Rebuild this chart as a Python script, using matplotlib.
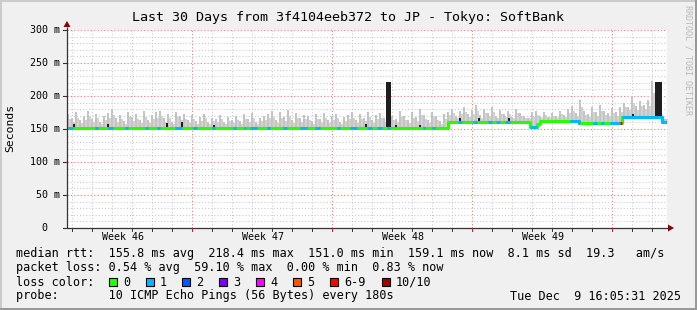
import numpy as np
import matplotlib
matplotlib.use('Agg')
import matplotlib.pyplot as plt
from matplotlib.patches import Rectangle, Polygon

W, H = 697, 310
MONO = 'DejaVu Sans Mono'

# x is in days from the left edge of the 30 day window
median_start = [0.0, 19.05, 23.15, 23.5, 23.65, 25.6, 27.75, 29.75]
median_ms = [151.5, 161.0, 153.0, 157.0, 162.0, 159.0, 168.0, 160.0]

# loss level per interval (1 = cyan, 6 = red); rest of the line is 0 (green)
loss_start = [0.05, 1.4, 2.05, 2.9, 3.9, 4.5, 5.4, 6.3, 7.25, 8.3, 8.85, 9.15,
              10.0, 10.8, 11.65, 12.4, 13.5, 14.15, 15.0, 15.5, 16.0, 17.8,
              18.25, 19.55, 20.3, 21.05, 21.45, 21.9, 23.15, 25.15, 26.3,
              26.7, 27.15, 27.65, 27.75]
loss_end = [0.3, 1.55, 2.3, 3.05, 4.05, 4.65, 5.75, 6.5, 7.4, 8.45, 8.95, 9.5,
            10.15, 11.0, 12.0, 12.65, 13.65, 14.5, 15.25, 15.75, 16.15, 17.9,
            18.4, 19.75, 20.5, 21.25, 21.65, 22.15, 23.5, 25.65, 26.5,
            26.85, 27.65, 27.75, 30.0]
loss_level = [1, 1, 1, 1, 1, 1, 1, 1, 1, 1, 1, 1,
              1, 1, 1, 1, 1, 1, 1, 1, 1, 1,
              1, 1, 1, 1, 1, 1, 1, 1, 1,
              1, 1, 6, 1]

# smoke top (max ping) per 0.2 day bin, ms
smoke_top = [
    172, 166, 175, 163, 170, 178, 165, 173, 161, 169,
    174, 180, 166, 171, 162, 176, 168, 172, 164, 177,
    163, 171, 175, 178, 166, 173, 160, 176, 169, 172,
    164, 171, 162, 168, 173, 161, 167, 165, 171, 160,
    168, 163, 170, 162, 172, 165, 174, 161, 167, 170,
    173, 177, 164, 175, 168, 179, 163, 174, 166, 171,
    169, 162, 172, 165, 174, 163, 170, 173, 160, 168,
    171, 175, 164, 172, 167, 176, 163, 171, 174, 166,
    182, 170, 165, 177, 169, 163, 175, 168, 180, 171,
    164, 176, 169, 162, 172,
    176, 181, 170, 178, 184, 172, 179, 186, 171, 180,
    174, 183, 169, 179, 173, 178, 168, 181, 175, 170,
    167, 175, 178, 169, 176, 168, 174, 170, 178, 171,
    180, 185, 174, 194, 178, 172, 183, 176, 187, 177,
    175, 182, 176, 184,
    190, 184, 200, 185, 192, 186, 194, 222, 215, 166,
]
BIN = 0.2

# dense (black) smoke: blips and the two latency spikes
dark_start = [0.3, 2.0, 4.95, 5.7, 7.3, 14.9, 15.95, 16.4, 17.6, 19.6, 20.55, 22.05, 28.25, 29.4]
dark_end = [0.38, 2.08, 5.05, 5.78, 7.38, 14.98, 16.2, 16.48, 17.68, 19.68, 20.63, 22.13, 28.33, 29.75]
dark_top = [157, 157, 159, 161, 156, 157, 221, 156, 156, 166, 166, 166, 172, 221]

loss_colors = ['#26ff00', '#00b8ff', '#0059ff', '#7e00ff', '#ff00ff', '#ff5500', '#ff0000', '#a10000']
loss_labels = ['0', '1', '2', '3', '4', '5', '6-9', '10/10']
week_labels = ['Week 46', 'Week 47', 'Week 48', 'Week 49']
week_centers = [2.78, 9.78, 16.78, 23.78]
y_ticks = [0, 50, 100, 150, 200, 250, 300]
y_tick_labels = ['0', '50 m', '100 m', '150 m', '200 m', '250 m', '300 m']

title = 'Last 30 Days from 3f4104eeb372 to JP - Tokyo: SoftBank'
legend_rtt = 'median rtt:  155.8 ms avg  218.4 ms max  151.0 ms min  159.1 ms now  8.1 ms sd  19.3   am/s'
legend_loss = 'packet loss: 0.54 % avg  59.10 % max  0.00 % min  0.83 % now'
legend_probe = 'probe:       10 ICMP Echo Pings (56 Bytes) every 180s'
stamp = 'Tue Dec  9 16:05:31 2025'


def median_at(d):
    i = np.searchsorted(median_start, d, side='right') - 1
    return np.asarray(median_ms)[np.clip(i, 0, len(median_ms) - 1)]


fig = plt.figure(figsize=(W / 100, H / 100), dpi=100, facecolor='#f0f0f0')

# plot area: x 67..667 px, y 30..228 px
ax = fig.add_axes([67 / W, (H - 228) / H, 600 / W, 198 / H])
ax.set_xlim(0, 30)
ax.set_ylim(0, 300)
ax.set_facecolor('white')
for s in ax.spines.values():
    s.set_visible(False)
ax.set_xticks([])
ax.set_yticks([])

dot = (0, (1, 2))
for k in range(30):
    d = 0.25 + k
    if k % 7 == 6:
        ax.axvline(d, color='#ff7070', lw=0.8, ls=dot, zorder=0)
    else:
        ax.axvline(d, color='#c8c8c8', lw=0.75, ls=dot, zorder=0)
for v in range(10, 301, 10):
    if v % 50 == 0:
        ax.axhline(v, color='#ff7070', lw=0.8, ls=dot, zorder=0)
    else:
        ax.axhline(v, color='#c8c8c8', lw=0.75, ls=dot, zorder=0)

# smoke: a low continuous haze over the median plus thin spikes up to the max
fine = np.linspace(0, 30, 601)
ax.fill_between(fine, median_at(fine) - 2, median_at(fine) + 6, step='post',
                color='#c4c4c4', lw=0, zorder=2)
left = np.arange(len(smoke_top)) * BIN
base = median_at(left + BIN / 2) - 2
ax.bar(left, np.array(smoke_top) - base, width=BIN * 0.55, bottom=base, align='edge',
       color='#c4c4c4', lw=0, zorder=2)
ax.bar(left + BIN * 0.55, (np.array(smoke_top) - base) * 0.7, width=BIN * 0.45, bottom=base,
       align='edge', color='#d2d2d2', lw=0, zorder=2)

# dense smoke
for s, e, t in zip(dark_start, dark_end, dark_top):
    b = median_at(s) - 1
    ax.bar(s, t - b, width=e - s, bottom=b, align='edge', color='#1e1e1e', lw=0, zorder=3)

# median line, green then overlaid by loss colour
xs = np.append(median_start, 30.0)
ys = np.append(median_ms, median_ms[-1])
ax.step(xs, ys, where='post', color=loss_colors[0], lw=2.2, zorder=4, solid_capstyle='butt')
for s, e, lv in zip(loss_start, loss_end, loss_level):
    inner = [m for m in median_start if s < m < e]
    px = np.array([s] + inner + [e])
    py = median_at(px[:-1])
    py = np.append(py, py[-1])
    ax.step(px, py, where='post', color=loss_colors[lv], lw=2.2, zorder=5, solid_capstyle='butt')

# overlay in pixel coordinates for frame, axes, text
ov = fig.add_axes([0, 0, 1, 1], zorder=10)
ov.set_xlim(0, W)
ov.set_ylim(H, 0)
ov.axis('off')
ov.patch.set_alpha(0)

# bevel border
ov.add_patch(Rectangle((0, 0), W, 2, color='#cbcbcb', lw=0))
ov.add_patch(Rectangle((0, 0), 2, H, color='#cbcbcb', lw=0))
ov.add_patch(Rectangle((0, H - 2), W, 2, color='#999999', lw=0))
ov.add_patch(Rectangle((W - 2, 0), 2, H, color='#999999', lw=0))

# axes with arrows
ov.plot([67, 668], [228, 228], color='#333333', lw=0.9, solid_capstyle='butt')
ov.plot([67, 67], [228, 27], color='#333333', lw=0.9, solid_capstyle='butt')
ov.add_patch(Polygon([(668, 224.5), (674, 228), (668, 231.5)], color='#8b0000', lw=0))
ov.add_patch(Polygon([(63.5, 27), (67, 21), (70.5, 27)], color='#8b0000', lw=0))

for v, lab in zip(y_ticks, y_tick_labels):
    yp = 228 - v * 198 / 300
    ov.plot([63, 67], [yp, yp], color='#333333', lw=0.8)
    xr = 47 if lab == '0' else 60
    ov.text(xr, yp, lab, ha='right', va='center', family=MONO, fontsize=7.2)
for k in range(30):
    xp = 67 + 20 * (0.25 + k)
    c = '#ff0000' if k % 7 == 6 else '#333333'
    ov.plot([xp, xp], [228, 230.5], color=c, lw=0.7)
for d, lab in zip(week_centers, week_labels):
    ov.text(67 + 20 * d, 237.5, lab, ha='center', va='center', family=MONO, fontsize=7.2)

ov.text(348, 18, title, ha='center', va='center', family=MONO, fontsize=9.6)
ov.text(10, 128, 'Seconds', ha='center', va='center', rotation=90, family=MONO, fontsize=8.2)
ov.text(688, 5, 'RRDTOOL / TOBI OETIKER', ha='center', va='top', rotation=270,
        family=MONO, fontsize=6, color='#b8b8b8')

ov.text(16, 254, legend_rtt, ha='left', va='center', family=MONO, fontsize=8.5)
ov.text(16, 268, legend_loss, ha='left', va='center', family=MONO, fontsize=8.5)
ov.text(16, 282, 'loss color:', ha='left', va='center', family=MONO, fontsize=8.5)
box_x = [109, 146, 182, 219, 256, 293, 330, 382]
for bx, c, lab in zip(box_x, loss_colors, loss_labels):
    ov.add_patch(Rectangle((bx, 278), 8, 8, facecolor=c, edgecolor='black', lw=0.8))
    ov.text(bx + 14, 282, lab, ha='left', va='center', family=MONO, fontsize=8.5)
ov.text(16, 296, legend_probe, ha='left', va='center', family=MONO, fontsize=8.5)
ov.text(681, 296, stamp, ha='right', va='center', family=MONO, fontsize=8.5)

fig.savefig('out.png', dpi=100, facecolor=fig.get_facecolor())
